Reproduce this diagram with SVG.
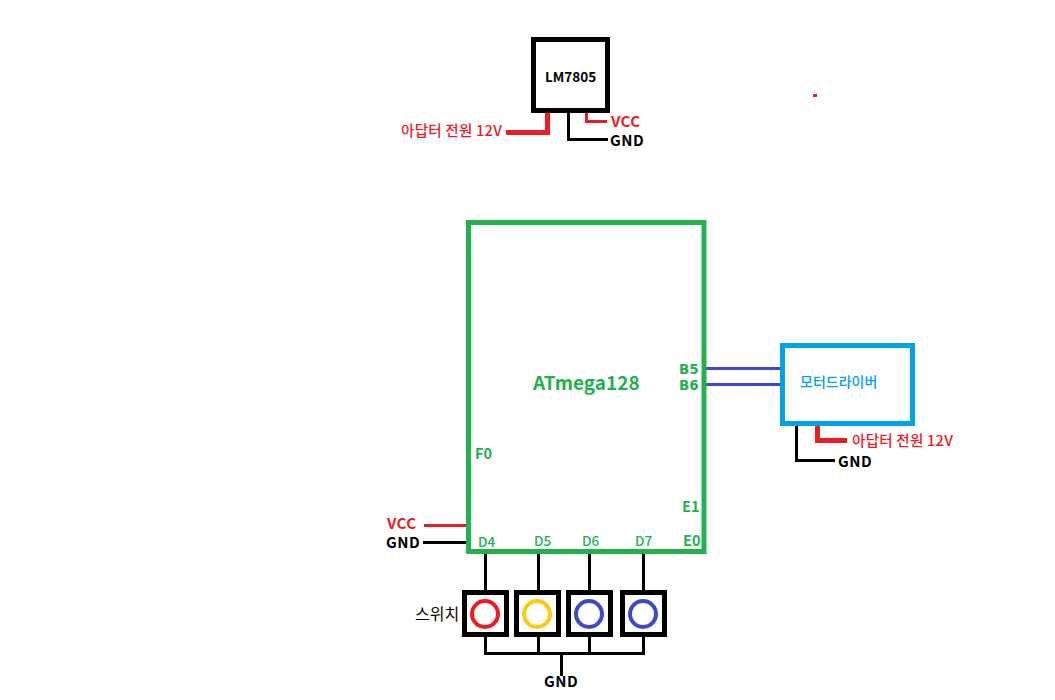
<svg xmlns="http://www.w3.org/2000/svg" width="1055" height="700" viewBox="0 0 1055 700">
<style>
text{font-family:"Noto Sans CJK KR","Noto Sans",sans-serif;font-weight:700;font-size:15px;letter-spacing:.5px}
.g{fill:#22b14c}.r{fill:#ed1c24}.k{fill:#000}.b{fill:#00a2e8}
.pin{font-size:14.500px;letter-spacing:0}
.bp{font-family:"DejaVu Sans",sans-serif;font-size:13.500px;letter-spacing:0}
.d{font-size:13.500px;font-weight:500;letter-spacing:0}
.ad{font-size:14.600px;font-weight:500;letter-spacing:.2px}
.w{fill:#fff;stroke:#000;stroke-width:5}
.c{fill:none;stroke-linejoin:miter}
.kl{stroke:#000;stroke-width:3}.rl{stroke:#ed1c24;stroke-width:3}.rt{stroke:#ed1c24;stroke-width:5}.bl{stroke:#3f48cc;stroke-width:3}
.sw{fill:#fff;stroke-width:4}
</style>
<g id="connectors" class="c">
<path class="rt" d="M547.500 111V132.500H506"/>
<path class="rl" d="M586.500 112V121.500H607"/>
<path class="kl" d="M568.500 112V139.500H608"/>
<path class="rl" d="M424 525.500H468"/>
<path class="kl" d="M423 542.500H468"/>
<path class="kl" d="M485.500 553V592M538.500 553V592M589.500 553V592M643.500 553V592"/>
<path class="kl" d="M485.500 635V653.500H643.500V635M538.500 635V653.500M589.500 635V653.500M561.500 653.500V676"/>
<path class="bl" d="M706 368.500H783M706 384.500H783"/>
<path class="kl" d="M796.500 425V460.500H835"/>
<path class="rt" d="M817.500 425V440.500H847"/>
</g>
<g id="lm7805"><rect class="w" x="533.500" y="39.500" width="74" height="71"/><text x="545" y="82" style="font-size:13.500px;letter-spacing:0">LM7805</text></g>
<g id="atmega128"><rect x="468.500" y="222.500" width="235.500" height="329" fill="#fff" stroke="#22b14c" stroke-width="5"/>
<text class="g" x="533" y="390" style="font-size:19px;letter-spacing:0">ATmega128</text>
<text class="g bp" x="679" y="374">B5</text><text class="g bp" x="679" y="390">B6</text>
<text class="g pin" x="475" y="459">F0</text><text class="g pin" x="682" y="512">E1</text><text class="g pin" x="683" y="546">E0</text>
<text class="g d" x="478" y="547">D4</text><text class="g d" x="534" y="546">D5</text><text class="g d" x="582" y="546">D6</text><text class="g d" x="635" y="546">D7</text></g>
<g id="driver"><rect x="782.500" y="345.500" width="130" height="78" fill="#fff" stroke="#00a2e8" stroke-width="5"/><text class="b" x="800" y="387" style="font-size:14px;font-weight:500;letter-spacing:0">모터드라이버</text></g>
<g id="sw1"><rect class="w" x="464.500" y="592.500" width="42" height="42"/><circle class="sw" cx="485" cy="614" r="13" stroke="#ed1c24"/></g>
<g id="sw2"><rect class="w" x="516.500" y="592.500" width="42" height="42"/><circle class="sw" cx="537" cy="614" r="13" stroke="#ffc90e"/></g>
<g id="sw3"><rect class="w" x="568.500" y="592.500" width="42" height="42"/><circle class="sw" cx="589" cy="614" r="13" stroke="#3f48cc"/></g>
<g id="sw4"><rect class="w" x="622.500" y="592.500" width="42" height="42"/><circle class="sw" cx="643" cy="614" r="13" stroke="#3f48cc"/></g>
<g id="labels">
<text class="r ad" x="401" y="136">아답터 전원 12V</text>
<text class="r" x="611" y="127">VCC</text><text class="k" x="610" y="146">GND</text>
<text class="r ad" x="852" y="446">아답터 전원 12V</text>
<text class="k" x="838" y="467">GND</text>
<text class="r" x="387" y="529">VCC</text><text class="k" x="386" y="548">GND</text>
<text class="k" x="415" y="620" style="font-size:16px;font-weight:400;letter-spacing:0">스위치</text>
<text class="k" x="544" y="687">GND</text>
</g>
<rect id="dot" x="813" y="94" width="4" height="3" fill="#ed1c24"/>
</svg>
